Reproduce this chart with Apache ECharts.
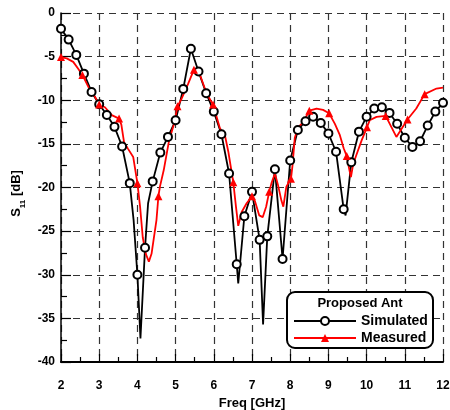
<!DOCTYPE html>
<html>
<head>
<meta charset="utf-8">
<script src="https://cdn.jsdelivr.net/npm/echarts@6/dist/echarts.min.js"></script>
<style>
html,body{margin:0;padding:0;background:#fff;}
#chart{width:450px;height:410px;}
</style>
</head>
<body>
<div id="chart"></div>
<script>
// Simulated: frequency (GHz), S11 (dB), marker flag
const simFreq = [2.0,2.2,2.4,2.6,2.8,3.0,3.2,3.4,3.6,3.8,3.9,4.0,4.08,4.2,4.28,4.4,4.6,4.8,5.0,5.2,5.4,5.6,5.8,6.0,6.2,6.4,6.6,6.64,6.8,7.0,7.2,7.29,7.4,7.6,7.8,8.0,8.2,8.4,8.6,8.8,9.0,9.2,9.4,9.45,9.6,9.8,10.0,10.2,10.4,10.6,10.8,11.0,11.2,11.4,11.6,11.8,12.0];
const simS11 = [-1.8,-3.05,-4.8,-6.95,-9.05,-10.45,-11.7,-13.05,-15.3,-19.5,-23.7,-30.0,-37.3,-26.9,-21.8,-19.3,-16.0,-14.2,-12.3,-8.7,-4.1,-6.7,-9.2,-11.3,-13.9,-18.4,-28.8,-31.0,-23.3,-20.5,-26.0,-35.7,-25.6,-17.9,-28.2,-16.9,-13.4,-12.4,-11.9,-12.6,-13.8,-15.9,-22.5,-23.2,-17.1,-13.6,-11.9,-10.95,-10.8,-11.45,-12.7,-14.3,-15.35,-14.7,-12.9,-11.3,-10.3];
const simMark = [1,1,1,1,1,1,1,1,1,1,0,1,0,1,0,1,1,1,1,1,1,1,1,1,1,1,1,0,1,1,1,0,1,1,1,1,1,1,1,1,1,1,1,0,1,1,1,1,1,1,1,1,1,1,1,1,1];

// Measured
const measFreq = [2.0,2.15,2.32,2.45,2.56,2.72,2.89,3.0,3.15,3.33,3.52,3.58,3.65,3.76,3.89,4.0,4.07,4.14,4.22,4.3,4.37,4.5,4.55,4.59,4.69,4.83,4.96,5.05,5.16,5.33,5.48,5.64,5.81,5.98,6.16,6.29,6.38,6.51,6.58,6.64,6.73,6.86,7.0,7.08,7.19,7.28,7.37,7.45,7.51,7.6,7.68,7.77,7.82,7.9,8.02,8.06,8.12,8.21,8.34,8.5,8.69,8.86,9.02,9.17,9.3,9.4,9.48,9.55,9.59,9.65,9.73,9.87,10.01,10.08,10.26,10.5,10.78,11.07,11.3,11.52,11.83,12.0];
const measS11 = [-5.05,-5.2,-5.6,-6.4,-7.1,-8.5,-9.6,-10.5,-10.8,-11.7,-12.1,-12.8,-14.8,-15.6,-16.5,-19.5,-22.2,-25.7,-27.6,-28.5,-27.6,-23.7,-21.0,-19.9,-18.0,-14.6,-12.7,-10.7,-9.8,-8.1,-6.5,-7.1,-9.2,-10.5,-13.2,-14.0,-15.9,-19.4,-22.2,-24.4,-22.8,-21.8,-21.0,-21.6,-23.2,-23.4,-22.2,-20.5,-19.5,-18.4,-19.7,-21.5,-22.2,-19.9,-19.0,-17.5,-14.3,-13.1,-12.5,-11.2,-10.95,-11.1,-11.5,-12.7,-14.0,-15.5,-16.4,-18.0,-18.8,-17.3,-16.3,-14.6,-13.1,-12.3,-11.9,-11.8,-14.2,-12.2,-10.95,-9.3,-8.66,-8.55];
const measMark = [1,0,0,0,1,0,0,1,0,0,1,0,0,0,0,1,0,0,0,0,0,0,1,0,0,0,0,1,0,0,1,0,0,1,0,0,0,1,0,0,0,0,1,0,0,0,0,1,0,0,0,0,0,0,1,0,0,0,0,1,0,0,1,0,0,0,1,0,0,0,0,0,1,0,0,1,0,1,0,1,0,0];

const xTicks = {min: 2, max: 12, interval: 1};
const yTicks = {min: -40, max: 0, interval: 5};
const seriesNames = ['Simulated', 'Measured'];
const legendTitle = 'Proposed Ant';

const FONT = "'Liberation Sans', Arial, sans-serif";

function build(freq, vals, marks) {
  return freq.map((f, i) => marks[i] ? [f, vals[i]] : {value: [f, vals[i]], symbol: 'none'});
}

const chart = echarts.init(document.getElementById('chart'), null, {renderer: 'canvas'});
const gridDash = {type: [7, 5], color: '#333', width: 1.2};

chart.setOption({
  animation: false,
  backgroundColor: '#fff',
  grid: {left: 61, right: 7, top: 13, bottom: 48, containLabel: false, outerBoundsMode: 'none'},
  xAxis: {
    type: 'value', min: xTicks.min, max: xTicks.max, interval: xTicks.interval,
    name: 'Freq [GHz]', nameLocation: 'middle', nameGap: 33,
    nameTextStyle: {fontFamily: FONT, fontWeight: 'bold', fontSize: 13, color: '#000'},
    axisLine: {show: true, onZero: false, lineStyle: {color: '#000', width: 2}},
    axisTick: {show: true, inside: true, length: 8, lineStyle: {color: '#000', width: 1.2}},
    minorTick: {show: true, splitNumber: 2, length: 5, lineStyle: {color: '#000', width: 1.2}},
    axisLabel: {fontFamily: FONT, fontWeight: 'bold', fontSize: 12, color: '#000', margin: 18},
    splitLine: {show: true, lineStyle: gridDash}
  },
  yAxis: {
    type: 'value', min: yTicks.min, max: yTicks.max, interval: yTicks.interval,
    name: '{s|S}{sub|11}{s| [dB]}', nameLocation: 'middle', nameGap: 32,
    nameTextStyle: {
      fontFamily: FONT, fontWeight: 'bold', color: '#000', padding: [0, 12, 0, 0],
      rich: {
        s: {fontFamily: FONT, fontWeight: 'bold', fontSize: 13, color: '#000', lineHeight: 20, verticalAlign: 'middle'},
        sub: {fontFamily: FONT, fontWeight: 'bold', fontSize: 8, color: '#000', lineHeight: 20, verticalAlign: 'bottom'}
      }
    },
    axisLine: {show: true, onZero: false, lineStyle: {color: '#000', width: 1.5}},
    axisTick: {show: true, inside: true, length: 10, lineStyle: {color: '#000', width: 1.2}},
    minorTick: {show: true, splitNumber: 2, length: 6, lineStyle: {color: '#000', width: 1.2}},
    axisLabel: {fontFamily: FONT, fontWeight: 'bold', fontSize: 12, color: '#000', margin: 6},
    splitLine: {show: true, lineStyle: gridDash}
  },
  legend: {
    orient: 'vertical', left: 293, top: 314, padding: 0, itemWidth: 62, itemHeight: 10, itemGap: 3,
    z: 10,
    textStyle: {fontFamily: FONT, fontWeight: 'bold', fontSize: 14, color: '#000', lineHeight: 14},
    data: seriesNames
  },
  graphic: [
    {type: 'rect', z: 5, shape: {x: 287, y: 292, width: 146, height: 56, r: 8},
     style: {fill: '#fff', stroke: '#000', lineWidth: 2}},
    {type: 'text', z: 6, x: 360, y: 297,
     style: {text: legendTitle, textAlign: 'center', font: "bold 13px 'Liberation Sans', Arial, sans-serif", fill: '#000'}}
  ],
  series: [
    {
      name: seriesNames[0], type: 'line', data: build(simFreq, simS11, simMark),
      symbol: 'emptyCircle', symbolSize: 8, showAllSymbol: true,
      lineStyle: {color: '#000', width: 1.8},
      itemStyle: {color: '#000', borderColor: '#000', borderWidth: 1.3}
    },
    {
      name: seriesNames[1], type: 'line', data: build(measFreq, measS11, measMark),
      symbol: 'triangle', symbolSize: 8, showAllSymbol: true,
      lineStyle: {color: '#ff0000', width: 1.8},
      itemStyle: {color: '#ff0000'}
    }
  ]
});
</script>
</body>
</html>
